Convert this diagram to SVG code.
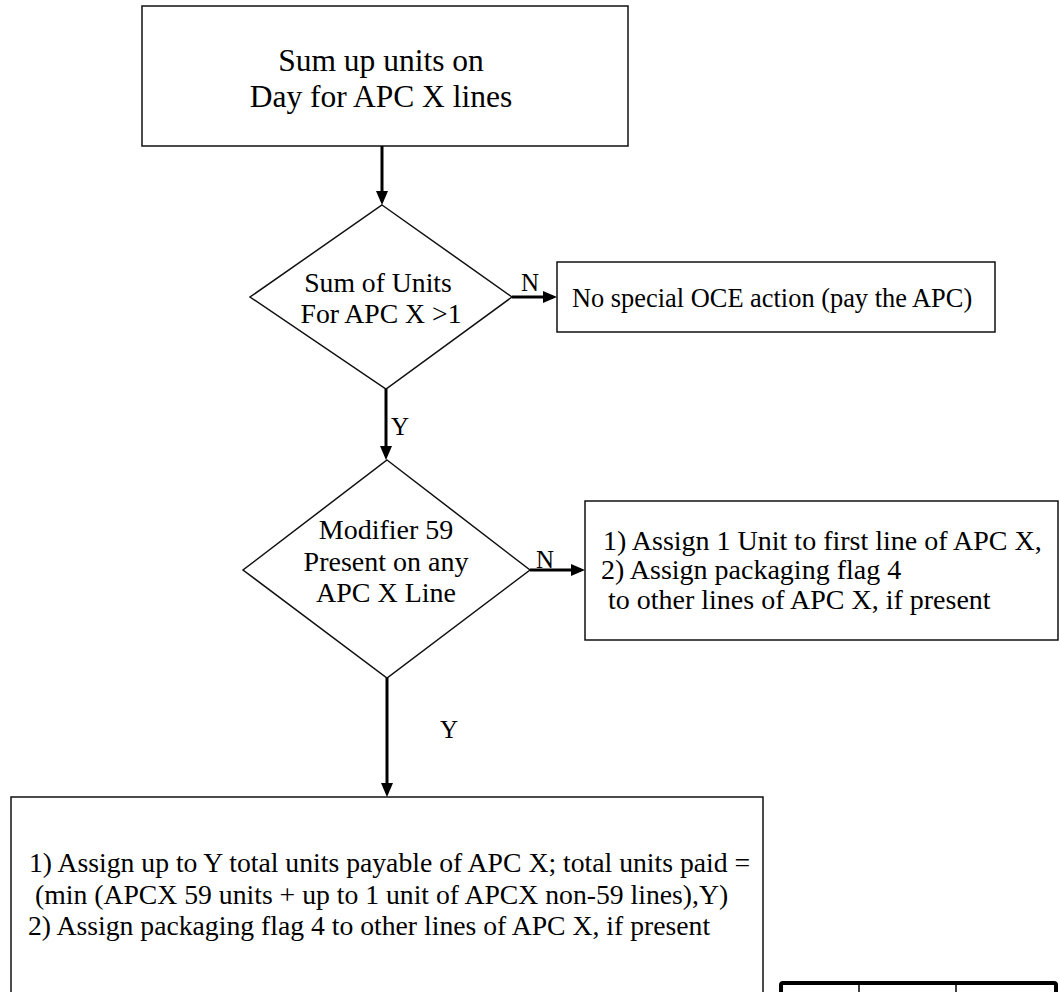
<svg xmlns="http://www.w3.org/2000/svg" width="1060" height="992" viewBox="0 0 1060 992">
  <style>
    .box { fill: #ffffff; stroke: #111111; stroke-width: 1.5; }
    .txt { font-family: "Liberation Serif", "Times New Roman", serif; fill: #000000; }
    .conn { fill: none; stroke: #000000; stroke-width: 3; }
    .lbl { font-family: "Liberation Serif", "Times New Roman", serif; fill: #000000; font-size: 25px; }
  </style>
  <defs>
    <marker id="arrow" viewBox="0 0 14 12" markerWidth="14" markerHeight="12" markerUnits="userSpaceOnUse" refX="10" refY="6" orient="auto">
      <path d="M0,0 L14,6 L0,12 z" fill="#000000"/>
    </marker>
  </defs>
  <rect width="1060" height="992" fill="#ffffff"/>

  <g id="start">
    <rect class="box" x="142" y="6" width="486" height="140"/>
    <text class="txt" font-size="31.5" text-anchor="middle" x="381" y="71">Sum up units on</text>
    <text class="txt" font-size="31.5" text-anchor="middle" x="381" y="107">Day for APC X lines</text>
  </g>

  <g id="decision1">
    <polygon class="box" points="382,205 512,297 386,389 250,297"/>
    <text class="txt" font-size="27.7" text-anchor="middle" x="378" y="292">Sum of Units</text>
    <text class="txt" font-size="27.7" text-anchor="middle" x="381" y="323">For APC X &gt;1</text>
  </g>

  <g id="noaction">
    <rect class="box" x="557" y="262" width="438" height="70"/>
    <text class="txt" font-size="26.4" x="572" y="307">No special OCE action (pay the APC)</text>
  </g>

  <g id="decision2">
    <polygon class="box" points="387,460 530,570 387,678 243,570"/>
    <text class="txt" font-size="28" text-anchor="middle" x="386" y="539">Modifier 59</text>
    <text class="txt" font-size="28" text-anchor="middle" x="386" y="571">Present on any</text>
    <text class="txt" font-size="28" text-anchor="middle" x="386" y="602">APC X Line</text>
  </g>

  <g id="assignone">
    <rect class="box" x="585" y="501" width="473" height="139"/>
    <text class="txt" font-size="28" x="603" y="550">1) Assign 1 Unit to first line of APC X,</text>
    <text class="txt" font-size="28" x="601" y="579">2) Assign packaging flag 4</text>
    <text class="txt" font-size="28" x="608" y="609">to other lines of APC X, if present</text>
  </g>

  <g id="assignY">
    <rect class="box" x="11" y="797" width="752" height="220"/>
    <text class="txt" font-size="27.7" x="29" y="872">1) Assign up to Y total units payable of APC X; total units paid =</text>
    <text class="txt" font-size="27.7" x="35" y="904">(min (APCX 59 units + up to 1 unit of APCX non-59 lines),Y)</text>
    <text class="txt" font-size="27.7" x="28" y="935">2) Assign packaging flag 4 to other lines of APC X, if present</text>
  </g>

  <g id="table">
    <rect x="781" y="983" width="275" height="30" rx="2" fill="#ffffff" stroke="#000000" stroke-width="4"/>
    <line x1="859" y1="985" x2="859" y2="992" stroke="#000000" stroke-width="1.5"/>
    <line x1="956" y1="985" x2="956" y2="992" stroke="#000000" stroke-width="1.5"/>
  </g>

  <g id="connectors">
    <line class="conn" x1="382" y1="146" x2="382" y2="201" marker-end="url(#arrow)"/>
    <line class="conn" x1="512" y1="297" x2="553" y2="297" marker-end="url(#arrow)"/>
    <line class="conn" x1="386" y1="389" x2="386" y2="456" marker-end="url(#arrow)"/>
    <line class="conn" x1="530" y1="570" x2="581" y2="570" marker-end="url(#arrow)"/>
    <line class="conn" x1="387" y1="678" x2="387" y2="793" marker-end="url(#arrow)"/>
    <text class="lbl" x="521" y="291">N</text>
    <text class="lbl" x="391" y="435">Y</text>
    <text class="lbl" x="536" y="568">N</text>
    <text class="lbl" x="440" y="738">Y</text>
  </g>
</svg>
